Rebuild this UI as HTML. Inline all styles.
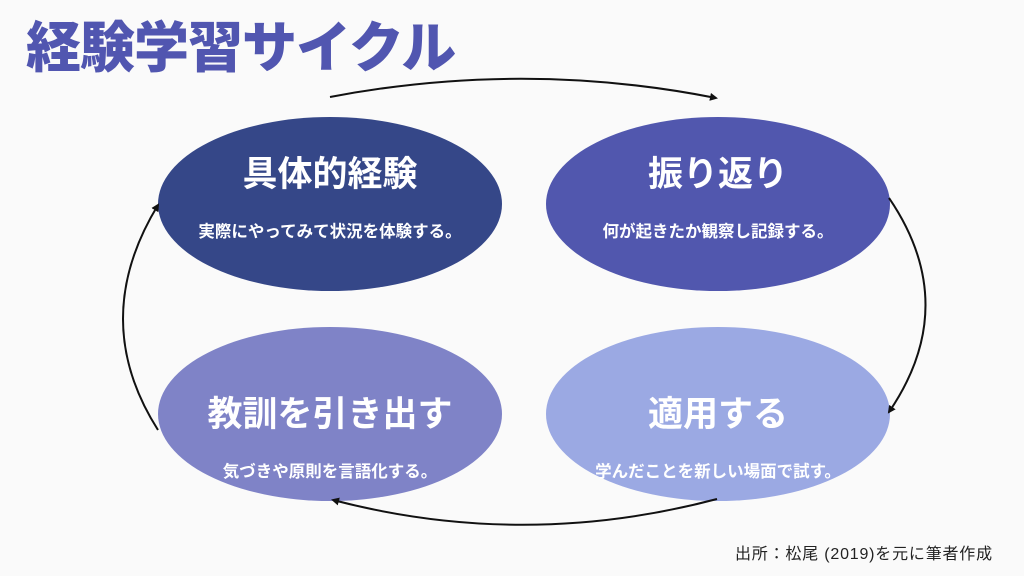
<!DOCTYPE html>
<html><head><meta charset="utf-8"><style>
body{margin:0;width:1024px;height:576px;background:#fafafa;overflow:hidden;font-family:"Liberation Sans","Noto Sans CJK JP",sans-serif;position:relative}
.t{position:absolute;left:26px;top:16px;font-size:55px;font-weight:900;color:#5156b0;letter-spacing:-1px;line-height:64px}
.lab{position:absolute;width:344px;text-align:center;color:#fff}
.h{font-size:35px;font-weight:bold}
.s{font-size:16.5px;font-weight:bold}
.src{position:absolute;left:735px;top:540px;font-size:16px;color:#222;letter-spacing:0.8px}
</style></head><body>
<svg width="1024" height="576" style="position:absolute;left:0;top:0">
<defs><marker id="a" markerWidth="8" markerHeight="8" refX="6" refY="4" orient="auto" markerUnits="userSpaceOnUse"><path d="M0,0 L8,4 L0,8 Z" fill="#111"/></marker></defs>
<ellipse cx="330" cy="204" rx="172" ry="87" fill="#354788"/>
<ellipse cx="718" cy="204" rx="172" ry="87" fill="#5157ae"/>
<ellipse cx="330" cy="414" rx="172" ry="87" fill="#7f83c7"/>
<ellipse cx="718" cy="414" rx="172" ry="87" fill="#9ba9e3"/>
<g fill="none" stroke="#111" stroke-width="2">
<path d="M330,97 Q524,60 716,98" marker-end="url(#a)"/>
<path d="M889,198 Q962,305 889,412" marker-end="url(#a)"/>
<path d="M717,499 Q524,550 333,500" marker-end="url(#a)"/>
<path d="M158,430 Q88,320 158,205" marker-end="url(#a)"/>
</g>
</svg>
<div class="t">経験学習サイクル</div>
<div class="lab h" style="left:158px;top:146px">具体的経験</div>
<div class="lab s" style="left:158px;top:218px">実際にやってみて状況を体験する。</div>
<div class="lab h" style="left:546px;top:146px">振り返り</div>
<div class="lab s" style="left:546px;top:218px">何が起きたか観察し記録する。</div>
<div class="lab h" style="left:158px;top:386px">教訓を引き出す</div>
<div class="lab s" style="left:158px;top:458px">気づきや原則を言語化する。</div>
<div class="lab h" style="left:546px;top:386px">適用する</div>
<div class="lab s" style="left:546px;top:458px">学んだことを新しい場面で試す。</div>
<div class="src">出所：松尾 (2019)を元に筆者作成</div>
</body></html>
